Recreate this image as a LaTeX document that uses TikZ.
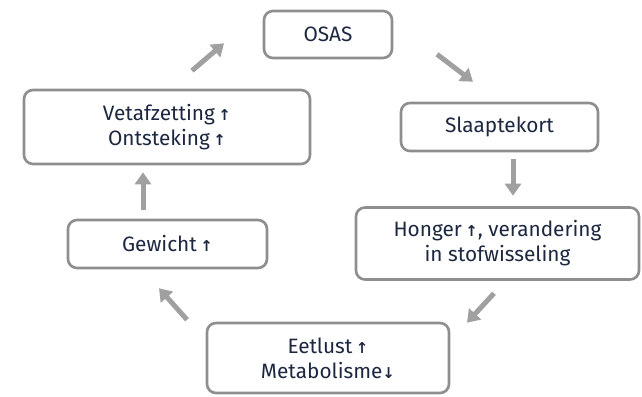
\documentclass[tikz,border=0pt]{standalone}
\usepackage{fontspec}
\setmainfont{Fira Sans}
\newfontfamily\arrowfont{DejaVu Sans}
\usetikzlibrary{arrows.meta}
\definecolor{boxgray}{HTML}{8E8E8E}
\definecolor{arrowgray}{HTML}{A0A0A0}
\definecolor{textblue}{HTML}{1C2740}
\newcommand{\omhoog}{\,{\arrowfont\bfseries\fontsize{15}{15}\selectfont ↑}}
\newcommand{\omlaag}{{\arrowfont\bfseries\fontsize{15}{15}\selectfont ↓}}
\tikzset{
  stap/.style={draw=boxgray, line width=2.6pt, rounded corners=9pt, fill=white,
    text=textblue, align=center, inner sep=0pt, font=\fontsize{20.8}{25}\selectfont},
  flow/.style={draw=arrowgray, line width=5pt, -{Triangle[width=16pt,length=12pt]}}
}
\begin{document}
\begin{tikzpicture}[x=1pt,y=-1pt]
\useasboundingbox (0,0) rectangle (642,396);

% Boxes
\node[stap, minimum width=128pt, minimum height=47pt] (osas) at (328,34.5) {OSAS};
\node[stap, minimum width=197pt, minimum height=48pt] (slaap) at (499.5,127) {Slaaptekort};
\node[stap, minimum width=283pt, minimum height=72pt] (honger) at (497.5,243.5) {Honger\omhoog, verandering\\in stofwisseling};
\node[stap, minimum width=242pt, minimum height=70pt] (eetlust) at (328,358) {Eetlust\omhoog\\Metabolisme\omlaag};
\node[stap, minimum width=199pt, minimum height=48pt] (gewicht) at (167.5,244) {Gewicht\omhoog};
\node[stap, minimum width=286pt, minimum height=74pt] (vet) at (167,127) {Vetafzetting\omhoog\\Ontsteking\omhoog};

% Arrow ends
\coordinate (v1) at ([shift={(25,-18)}]vet.north);
\coordinate (o1) at ([shift={(-104,-16)}]osas.south);
\coordinate (o2) at ([shift={(109,-5)}]osas.south);
\coordinate (s1) at ([shift={(-26.5,-20)}]slaap.north);
\coordinate (s2) at ([shift={(13.5,7)}]slaap.south);
\coordinate (h1) at ([shift={(15.5,-10.5)}]honger.north);
\coordinate (h2) at ([shift={(-3.5,12.5)}]honger.south);
\coordinate (e1) at ([shift={(139,1)}]eetlust.north);
\coordinate (e2) at ([shift={(-141,-2)}]eetlust.north);
\coordinate (g1) at ([shift={(-8.5,19)}]gewicht.south);
\coordinate (g2) at ([shift={(-24.5,-9)}]gewicht.north);
\coordinate (v2) at ([shift={(-24,7)}]vet.south);

% Cycle
\draw[flow] (v1) -- (o1);
\draw[flow] (o2) -- (s1);
\draw[flow] (s2) -- (h1);
\draw[flow] (h2) -- (e1);
\draw[flow] (e2) -- (g1);
\draw[flow] (g2) -- (v2);

\end{tikzpicture}
\end{document}
